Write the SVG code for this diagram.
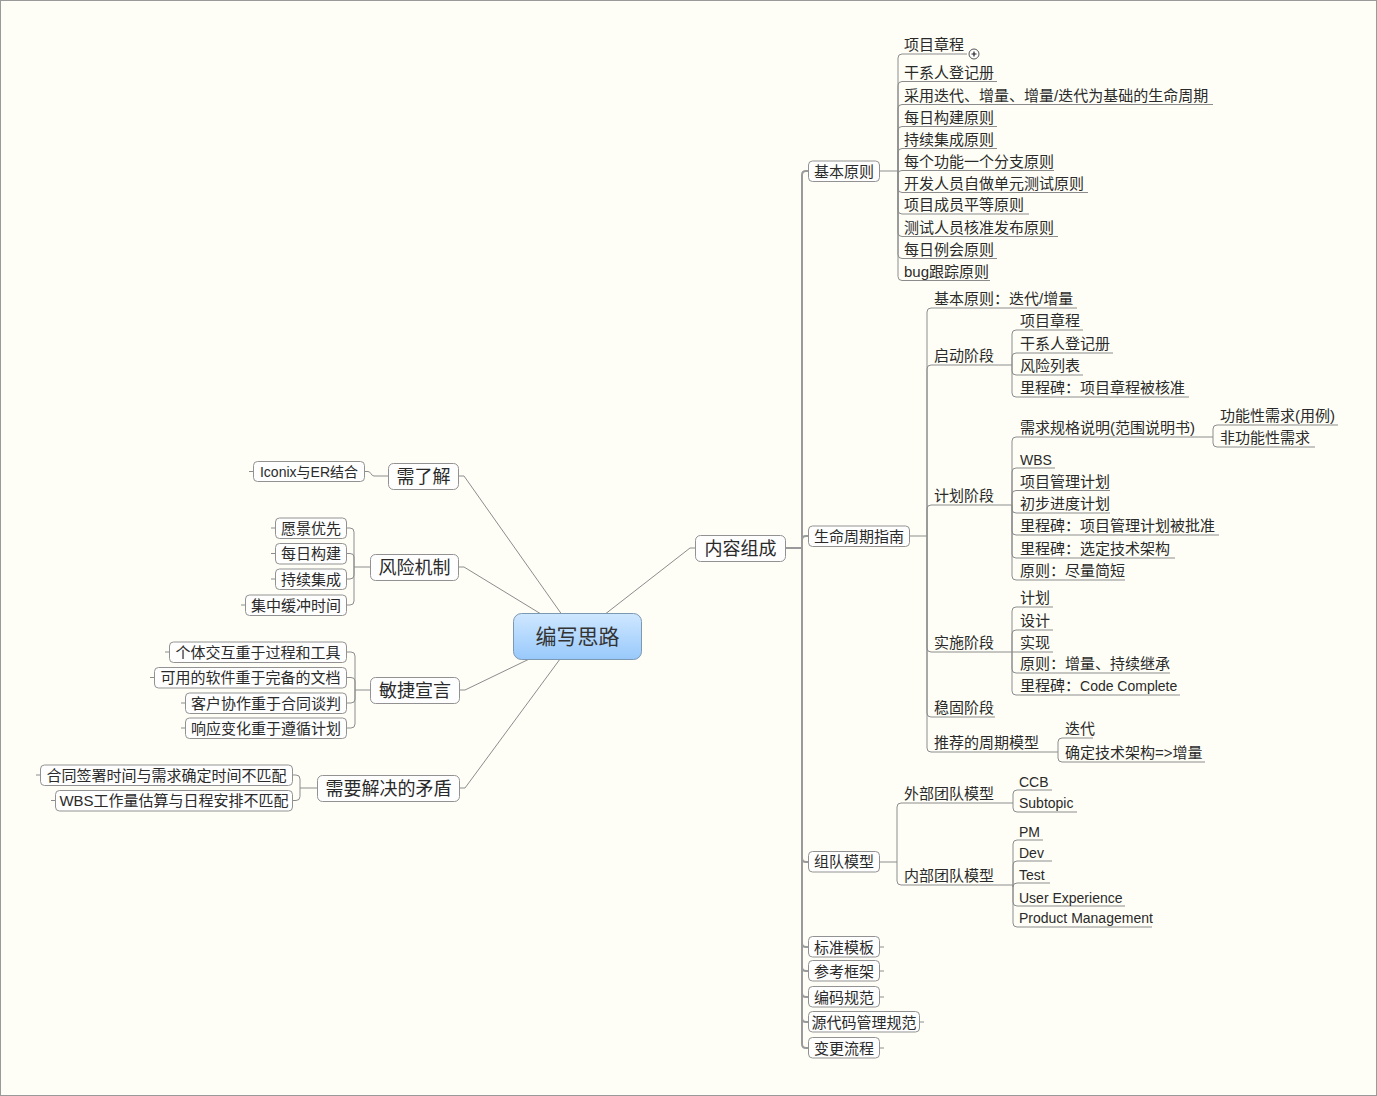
<svg xmlns="http://www.w3.org/2000/svg" width="1377" height="1096" viewBox="0 0 1377 1096">
<style>
text{font-family:"Liberation Sans","Noto Sans CJK SC",sans-serif;fill:#2a2a2a}
.t15{font-size:15px}
.t14{font-size:14px}
.t18{font-size:18px}
.mid{text-anchor:middle}
.c{fill:none;stroke:#8c8c8c;stroke-width:1}
.tr{fill:none;stroke:#9a9a9a;stroke-width:2}
.box{fill:#fefefe;stroke:#929292;stroke-width:1}
.tick{stroke:#8c8c8c;stroke-width:1}
</style>
<defs>
<linearGradient id="cg" x1="0" y1="0" x2="0" y2="1">
<stop offset="0" stop-color="#cfe7ff"/>
<stop offset="1" stop-color="#98c9fb"/>
</linearGradient>
</defs>
<rect x="0.5" y="0.5" width="1376" height="1095" fill="#fefef6" stroke="#9a9a9a"/>

<g id="connectors">
<!-- central to main topics -->
<polyline class="c" points="577,636 464,476 458,476"/>
<polyline class="c" points="577,636 464,567 459,567"/>
<polyline class="c" points="577,636 465,690 460,690"/>
<polyline class="c" points="577,636 465,788 460,788"/>
<polyline class="c" points="577,636 690,548 696,548"/>
<!-- left -->
<path class="c" d="M388,476 H374 C371,476 371,471.5 368,471.5 H365"/>
<path class="c" d="M370,567 H354 V532 Q354,528 350,528 H347 M354,567 V557 Q354,553.5 350,553.5 H347 M354,567 V575 Q354,579 350,579 H347 M354,567 V601 Q354,605 350,605 H347"/>
<path class="c" d="M370,690 H355 V656 Q355,652 351,652 H347 M355,690 V681 Q355,677.5 351,677.5 H347 M355,690 V699 Q355,703 351,703 H347 M355,690 V724 Q355,728 351,728 H347"/>
<path class="c" d="M317,788 H300 V779 Q300,775 296,775 H293 M300,788 V796.5 Q300,800.5 296,800.5 H293"/>
<!-- trunk -->
<path class="tr" d="M785,548 H802 V175 Q802,171 806,171 H808 M802,540 Q802,536 806,536 H808 M802,548 V1044 Q802,1048 806,1048 H808 M802,858 Q802,862 806,862 H808 M802,943 Q802,947 806,947 H808 M802,967 Q802,971 806,971 H808 M802,993 Q802,997 806,997 H808 M802,1018 Q802,1022 806,1022 H808"/>
<!-- 基本原则 -->
<path class="c" d="M880,171 H898 V58 Q898,54 902,54 H967 M898,171 V85.5 Q898,81.5 902,81.5 H997 M898,171 V108.5 Q898,104.5 902,104.5 H1213 M898,171 V130.5 Q898,126.5 902,126.5 H997 M898,171 V152.5 Q898,148.5 902,148.5 H997 M898,171 V174 Q898,170.5 902,170.5 H1054 M898,171 V188.5 Q898,192.5 902,192.5 H1088 M898,171 V210 Q898,214 902,214 H1029 M898,171 V232.5 Q898,236.5 902,236.5 H1058 M898,171 V254.5 Q898,258.5 902,258.5 H997 M898,171 V276.5 Q898,280.5 902,280.5 H990"/>
<!-- 生命周期指南 -->
<path class="c" d="M910,536 H927 V312 Q927,308 931,308 H1077 M927,536 V369 Q927,365 931,365 H1012 M927,536 V509 Q927,505 931,505 H1012 M927,536 V648 Q927,652 931,652 H1012 M927,536 V713 Q927,717 931,717 H995 M927,536 V748 Q927,752 931,752 H1058"/>
<!-- 启动阶段 -->
<path class="c" d="M1012,365 V334 Q1012,330 1016,330 H1083 M1012,365 V357 Q1012,353 1016,353 H1113 M1012,365 V371 Q1012,375 1016,375 H1083 M1012,365 V393 Q1012,397 1016,397 H1189"/>
<!-- 计划阶段 -->
<path class="c" d="M1012,505 V441 Q1012,437 1016,437 H1213 M1012,505 V472 Q1012,468 1016,468 H1055 M1012,505 V494.5 Q1012,490.5 1016,490.5 H1110 M1012,505 V509 Q1012,513 1016,513 H1110 M1012,505 V531 Q1012,535 1016,535 H1219 M1012,505 V554 Q1012,558 1016,558 H1175 M1012,505 V576 Q1012,580 1016,580 H1125"/>
<!-- 需求规格说明 -->
<path class="c" d="M1213,437 V429 Q1213,425 1217,425 H1338 M1213,437 V443 Q1213,447 1217,447 H1315"/>
<!-- 实施阶段 -->
<path class="c" d="M1012,652 V611 Q1012,607 1016,607 H1053 M1012,652 V634 Q1012,630 1016,630 H1053 M1012,652 H1053 M1012,652 V669 Q1012,673 1016,673 H1170 M1012,652 V691 Q1012,695 1016,695 H1180"/>
<!-- 推荐的周期模型 -->
<path class="c" d="M1058,752 V742 Q1058,738 1062,738 H1093 M1058,752 V758 Q1058,762 1062,762 H1205"/>
<!-- 组队模型 -->
<path class="c" d="M880,862 H897 V807 Q897,803 901,803 H1013 M897,862 V881 Q897,885 901,885 H1013"/>
<!-- 外部团队模型 -->
<path class="c" d="M1013,803 V794 Q1013,790 1017,790 H1052 M1013,803 V808 Q1013,812 1017,812 H1077"/>
<!-- 内部团队模型 -->
<path class="c" d="M1013,885 V844 Q1013,840 1017,840 H1043 M1013,885 V865 Q1013,861 1017,861 H1052 M1013,885 V887 Q1013,883 1017,883 H1050 M1013,885 V902 Q1013,906 1017,906 H1125 M1013,885 V923 Q1013,927 1017,927 H1152"/>
</g>

<g id="central">
<rect x="513.5" y="613.5" width="128" height="46" rx="8" fill="url(#cg)" stroke="#7d98b3"/>
<text x="577.5" y="644" class="mid" style="font-size:21px;fill:#333">编写思路</text>
</g>

<g id="n-xuliaojie"><rect class="box" x="388.5" y="463.5" width="70" height="26" rx="5"/><text x="423.5" y="482.5" class="t18 mid">需了解</text></g>
<g id="n-iconix"><line class="tick" x1="249" y1="471.5" x2="253" y2="471.5"/><rect class="box" x="253.5" y="461.5" width="111" height="20" rx="4"/><text x="309" y="477" class="t14 mid">Iconix与ER结合</text></g>

<g id="n-fengxian"><rect class="box" x="370.5" y="554.5" width="88" height="26" rx="5"/><text x="414.5" y="573.5" class="t18 mid">风险机制</text></g>
<g id="n-yuanjing"><line class="tick" x1="271" y1="528" x2="275" y2="528"/><rect class="box" x="275.5" y="518" width="71" height="20.5" rx="4"/><text x="311" y="533.5" class="t15 mid">愿景优先</text></g>
<g id="n-meiri"><line class="tick" x1="271" y1="553.5" x2="275" y2="553.5"/><rect class="box" x="275.5" y="543.5" width="71" height="20.5" rx="4"/><text x="311" y="559" class="t15 mid">每日构建</text></g>
<g id="n-chixu"><line class="tick" x1="271" y1="579" x2="275" y2="579"/><rect class="box" x="275.5" y="569" width="71" height="20.5" rx="4"/><text x="311" y="584.5" class="t15 mid">持续集成</text></g>
<g id="n-jizhong"><line class="tick" x1="241" y1="605" x2="245" y2="605"/><rect class="box" x="245.5" y="595" width="101" height="20.5" rx="4"/><text x="296" y="610.5" class="t15 mid">集中缓冲时间</text></g>

<g id="n-minjie"><rect class="box" x="370.5" y="677.5" width="89" height="26" rx="5"/><text x="415" y="696.5" class="t18 mid">敏捷宣言</text></g>
<g id="n-geti"><line class="tick" x1="165" y1="652" x2="169" y2="652"/><rect class="box" x="169.5" y="642" width="177" height="20.5" rx="4"/><text x="258" y="657.5" class="t15 mid">个体交互重于过程和工具</text></g>
<g id="n-keyong"><line class="tick" x1="150" y1="677.5" x2="154" y2="677.5"/><rect class="box" x="154.5" y="667.5" width="192" height="20.5" rx="4"/><text x="250.5" y="683" class="t15 mid">可用的软件重于完备的文档</text></g>
<g id="n-kehu"><line class="tick" x1="181" y1="703" x2="185" y2="703"/><rect class="box" x="185.5" y="693" width="161" height="20.5" rx="4"/><text x="266" y="708.5" class="t15 mid">客户协作重于合同谈判</text></g>
<g id="n-xiangying"><line class="tick" x1="181" y1="728" x2="185" y2="728"/><rect class="box" x="185.5" y="718" width="161" height="20.5" rx="4"/><text x="266" y="733.5" class="t15 mid">响应变化重于遵循计划</text></g>

<g id="n-maodun"><rect class="box" x="317.5" y="775.5" width="142" height="26" rx="5"/><text x="388.5" y="794.5" class="t18 mid">需要解决的矛盾</text></g>
<g id="n-hetong"><line class="tick" x1="36" y1="775" x2="40" y2="775"/><rect class="box" x="40.5" y="765" width="252" height="20.5" rx="4"/><text x="166.5" y="780.5" class="t15 mid">合同签署时间与需求确定时间不匹配</text></g>
<g id="n-wbs"><line class="tick" x1="51" y1="800.5" x2="55" y2="800.5"/><rect class="box" x="55.5" y="790.5" width="237" height="20.5" rx="4"/><text x="174" y="806" class="t15 mid">WBS工作量估算与日程安排不匹配</text></g>

<g id="n-neirong"><rect class="box" x="695.5" y="535.5" width="90" height="26" rx="5"/><text x="740.5" y="554.5" class="t18 mid">内容组成</text></g>

<g id="n-jiben"><rect class="box" x="808.5" y="161" width="71" height="20.5" rx="4"/><text x="844" y="176.5" class="t15 mid">基本原则</text></g>
<g id="n-jb-items" class="t15">
<text x="904" y="50">项目章程</text>
<circle cx="974" cy="54" r="5" fill="#fff" stroke="#555"/><path d="M971.5,54 H976.5 M974,51.5 V56.5" stroke="#222" stroke-width="1.2"/>
<text x="904" y="77.5">干系人登记册</text>
<text x="904" y="100.5">采用迭代、增量、增量/迭代为基础的生命周期</text>
<text x="904" y="122.5">每日构建原则</text>
<text x="904" y="144.5">持续集成原则</text>
<text x="904" y="166.5">每个功能一个分支原则</text>
<text x="904" y="188.5">开发人员自做单元测试原则</text>
<text x="904" y="210">项目成员平等原则</text>
<text x="904" y="232.5">测试人员核准发布原则</text>
<text x="904" y="254.5">每日例会原则</text>
<text x="904" y="276.5">bug跟踪原则</text>
</g>

<g id="n-shengming"><rect class="box" x="808.5" y="526" width="101" height="20.5" rx="4"/><text x="859" y="541.5" class="t15 mid">生命周期指南</text></g>
<g id="n-sm-items" class="t15">
<text x="934" y="304">基本原则：迭代/增量</text>
<text x="934" y="361">启动阶段</text>
<text x="934" y="501">计划阶段</text>
<text x="934" y="648">实施阶段</text>
<text x="934" y="713">稳固阶段</text>
<text x="934" y="748">推荐的周期模型</text>
</g>
<g id="n-qidong-items" class="t15">
<text x="1020" y="326">项目章程</text>
<text x="1020" y="349">干系人登记册</text>
<text x="1020" y="371">风险列表</text>
<text x="1020" y="393">里程碑：项目章程被核准</text>
</g>
<g id="n-jihua-items" class="t15">
<text x="1020" y="433">需求规格说明(范围说明书)</text>
<text x="1020" y="465" class="t14">WBS</text>
<text x="1020" y="486.5">项目管理计划</text>
<text x="1020" y="509">初步进度计划</text>
<text x="1020" y="531">里程碑：项目管理计划被批准</text>
<text x="1020" y="554">里程碑：选定技术架构</text>
<text x="1020" y="576">原则：尽量简短</text>
</g>
<g id="n-xuqiu-items" class="t15">
<text x="1220" y="421">功能性需求(用例)</text>
<text x="1220" y="443">非功能性需求</text>
</g>
<g id="n-shishi-items" class="t15">
<text x="1020" y="603">计划</text>
<text x="1020" y="626">设计</text>
<text x="1020" y="648">实现</text>
<text x="1020" y="669">原则：增量、持续继承</text>
<text x="1020" y="691">里程碑：<tspan class="t14">Code Complete</tspan></text>
</g>
<g id="n-tuijian-items" class="t15">
<text x="1065" y="734">迭代</text>
<text x="1065" y="758">确定技术架构=&gt;增量</text>
</g>

<g id="n-zudui"><rect class="box" x="808.5" y="851.5" width="71" height="20.5" rx="4"/><text x="844" y="867" class="t15 mid">组队模型</text></g>
<g id="n-zd-items" class="t15">
<text x="904" y="799">外部团队模型</text>
<text x="904" y="881">内部团队模型</text>
</g>
<g id="n-waibu-items" class="t14">
<text x="1019" y="786.5">CCB</text>
<text x="1019" y="808">Subtopic</text>
</g>
<g id="n-neibu-items" class="t14">
<text x="1019" y="836.5">PM</text>
<text x="1019" y="857.5">Dev</text>
<text x="1019" y="879.5">Test</text>
<text x="1019" y="902.5">User Experience</text>
<text x="1019" y="923">Product Management</text>
</g>

<g id="n-biaozhun"><rect class="box" x="808.5" y="936.5" width="71" height="20.5" rx="4"/><line class="tick" x1="880" y1="947" x2="884" y2="947"/><text x="844" y="952.5" class="t15 mid">标准模板</text></g>
<g id="n-cankao"><rect class="box" x="808.5" y="960.5" width="71" height="20.5" rx="4"/><line class="tick" x1="880" y1="971" x2="884" y2="971"/><text x="844" y="976.5" class="t15 mid">参考框架</text></g>
<g id="n-bianma"><rect class="box" x="808.5" y="986.5" width="71" height="20.5" rx="4"/><line class="tick" x1="880" y1="997" x2="884" y2="997"/><text x="844" y="1002.5" class="t15 mid">编码规范</text></g>
<g id="n-yuandaima"><rect class="box" x="808.5" y="1011.5" width="111" height="20.5" rx="4"/><line class="tick" x1="920" y1="1022" x2="924" y2="1022"/><text x="864" y="1027.5" class="t15 mid">源代码管理规范</text></g>
<g id="n-biangeng"><rect class="box" x="808.5" y="1037.5" width="71" height="20.5" rx="4"/><line class="tick" x1="880" y1="1048" x2="884" y2="1048"/><text x="844" y="1053.5" class="t15 mid">变更流程</text></g>
</svg>
